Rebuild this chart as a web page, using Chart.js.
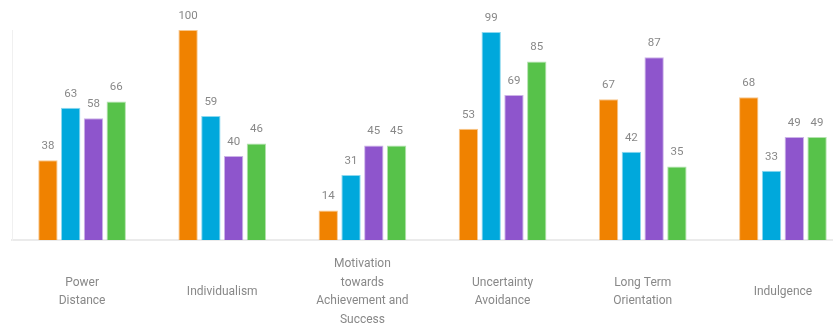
<!DOCTYPE html>
<html>
<head>
<meta charset="utf-8">
<script src="https://cdn.jsdelivr.net/npm/chart.js@4.4.1/dist/chart.umd.min.js"></script>
<style>
  html, body { margin: 0; padding: 0; background: #fff; overflow: hidden; }
  #wrap { width: 853px; height: 326px; }
</style>
</head>
<body>
<div id="wrap"><canvas id="hofstede"></canvas></div>
<script>
// Dimension names (multi-line as in the picture)
var categories = [
    ['Power', 'Distance'],
    ['Individualism'],
    ['Motivation', 'towards', 'Achievement and', 'Success'],
    ['Uncertainty', 'Avoidance'],
    ['Long Term', 'Orientation'],
    ['Indulgence']
];

// One series per country/bar colour
var orangeValues = [38, 100, 14, 53, 67, 68];
var blueValues   = [63, 59, 31, 99, 42, 33];
var purpleValues = [58, 40, 45, 69, 87, 49];
var greenValues  = [66, 46, 45, 85, 35, 49];

var seriesColors = ['#f08200', '#00a8dc', '#8e55cc', '#57c24a'];
var edgeColors = ['rgba(240,130,0,0.45)', 'rgba(0,168,220,0.45)', 'rgba(142,85,204,0.45)', 'rgba(87,194,74,0.45)'];

// draws the number above every bar
var valueLabels = {
    id: 'valueLabels',
    afterDatasetsDraw: function (chart) {
        var ctx = chart.ctx;
        ctx.save();
        ctx.font = '11.5px Roboto';
        ctx.fillStyle = '#888888';
        ctx.textAlign = 'center';
        ctx.textBaseline = 'middle';
        chart.data.datasets.forEach(function (ds, i) {
            var meta = chart.getDatasetMeta(i);
            meta.data.forEach(function (bar, j) {
                ctx.fillText(ds.data[j], bar.x, bar.y - 14);
            });
        });
        ctx.restore();
    }
};

var ctx = document.getElementById('hofstede').getContext('2d');
var chart = new Chart(ctx, {
    type: 'bar',
    data: {
        labels: categories,
        datasets: [
            { data: orangeValues, backgroundColor: seriesColors[0], borderColor: edgeColors[0] },
            { data: blueValues, backgroundColor: seriesColors[1], borderColor: edgeColors[1] },
            { data: purpleValues, backgroundColor: seriesColors[2], borderColor: edgeColors[2] },
            { data: greenValues, backgroundColor: seriesColors[3], borderColor: edgeColors[3] }
        ]
    },
    options: {
        responsive: true,
        maintainAspectRatio: false,
        animation: false,
        datasets: {
            bar: {
                categoryPercentage: 0.65,
                barPercentage: 0.85,
                borderWidth: 1
            }
        },
        layout: {
            padding: { top: 30, left: 12, right: 0, bottom: 0 }
        },
        plugins: {
            legend: { display: false },
            tooltip: { enabled: false }
        },
        scales: {
            x: {
                grid: { display: false, drawTicks: false },
                border: { display: true, color: '#ebebeb', width: 2 },
                ticks: {
                    color: '#888888',
                    font: { family: 'Roboto', size: 12, lineHeight: 1.56 },
                    padding: 24,
                    maxRotation: 0,
                    autoSkip: false,
                    crossAlign: 'center'
                },
                // keep the label band the same height as in the picture
                afterFit: function (scale) {
                    scale.height = 86;
                }
            },
            y: {
                min: 0,
                max: 100,
                grid: { display: false, drawTicks: false },
                border: { display: true, color: '#f0f0f0', width: 1 },
                ticks: { display: false }
            }
        }
    },
    plugins: [valueLabels]
});
</script>
</body>
</html>
